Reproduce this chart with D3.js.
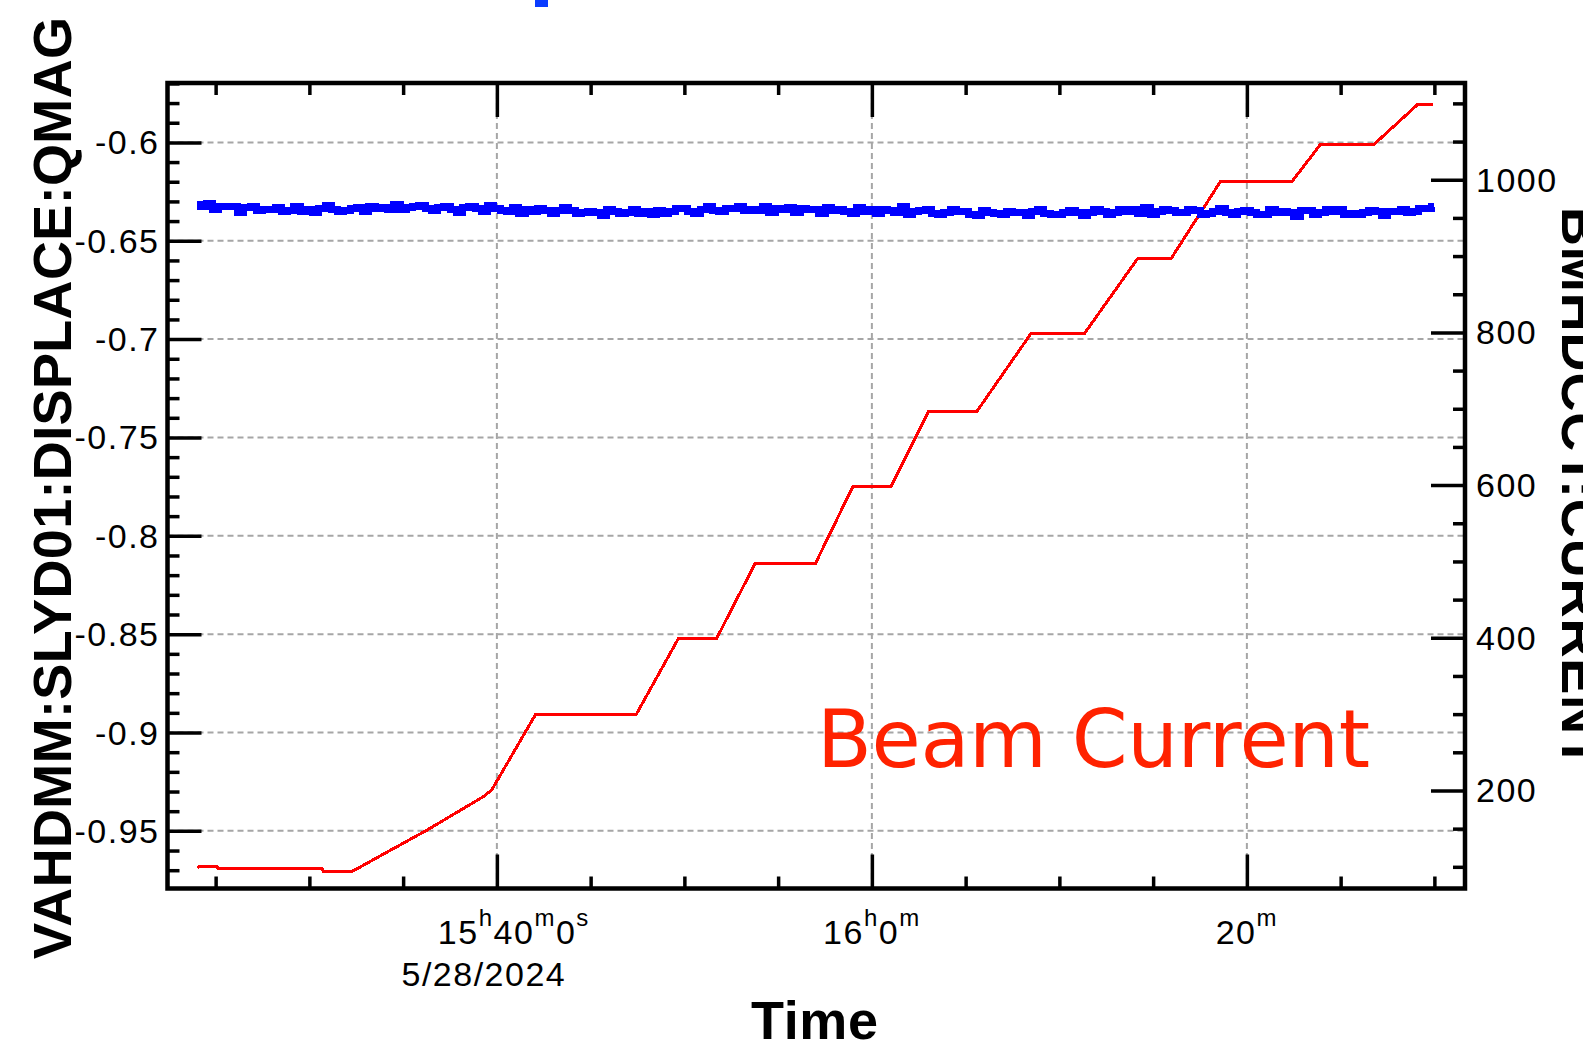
<!DOCTYPE html>
<html>
<head>
<meta charset="utf-8">
<script src="https://cdn.jsdelivr.net/npm/d3@7"></script>
<style>
  html, body { margin: 0; padding: 0; background: #fff; }
  svg { display: block; }
  .tick-label { font-family: "Liberation Sans", Arial, sans-serif; font-size: 34px; letter-spacing: 1.5px; fill: #000; }
  .axis-title { font-family: "Liberation Sans", Arial, Helvetica, sans-serif; font-weight: bold; font-size: 54px; fill: #000; }
</style>
</head>
<body>
<svg id="chart" width="1583" height="1046"></svg>
<script>
// ---- data -------------------------------------------------------------
const DAY = "2024-05-28";

// BMHDCCT:CURRENT (right axis), archived change points
const currentTimes = [
  "15:24:02", "15:24:08", "15:25:05", "15:25:08", "15:30:41", "15:30:45", "15:32:17",
  "15:34:50", "15:36:16", "15:39:17", "15:39:44", "15:42:03", "15:47:25", "15:49:41",
  "15:51:43", "15:53:46", "15:56:59", "15:58:59", "16:01:01", "16:03:01", "16:05:35",
  "16:08:30", "16:11:21", "16:14:11", "16:15:58", "16:18:36", "16:22:25", "16:23:55",
  "16:26:46", "16:29:05", "16:29:57"
];
const currentValues = [
  98, 100.5, 100.5, 97.5, 97.5, 94, 94,
  128.6, 148, 192, 201, 299, 299, 399,
  399, 497, 497, 598, 598, 696, 696,
  799, 799, 897, 897, 998, 998, 1046,
  1046, 1098, 1098
];

// VAHDMM:SLYD01:DISPLACE:QMAG (left axis), 20 s samples from 15:24:00
const displaceStart = "15:24:00";
const displaceStepSec = 20;
const displaceValues = [
  -0.6317, -0.6327, -0.6313, -0.6339, -0.6325, -0.6327, -0.6328, -0.6354, -0.6332,
  -0.6326, -0.6346, -0.6342, -0.6342, -0.6330, -0.6352, -0.6348, -0.6328, -0.6352,
  -0.6341, -0.6357, -0.6337, -0.6323, -0.6341, -0.6353, -0.6345, -0.6335, -0.6331,
  -0.6352, -0.6326, -0.6338, -0.6330, -0.6342, -0.6314, -0.6343, -0.6333, -0.6327,
  -0.6321, -0.6337, -0.6347, -0.6332, -0.6326, -0.6340, -0.6354, -0.6332, -0.6326,
  -0.6338, -0.6350, -0.6322, -0.6336, -0.6344, -0.6350, -0.6331, -0.6361, -0.6341,
  -0.6352, -0.6338, -0.6348, -0.6363, -0.6345, -0.6333, -0.6344, -0.6362, -0.6356,
  -0.6352, -0.6354, -0.6374, -0.6343, -0.6349, -0.6363, -0.6358, -0.6342, -0.6362,
  -0.6351, -0.6367, -0.6347, -0.6359, -0.6349, -0.6335, -0.6337, -0.6351, -0.6361,
  -0.6343, -0.6325, -0.6345, -0.6351, -0.6335, -0.6337, -0.6324, -0.6348, -0.6340,
  -0.6346, -0.6328, -0.6356, -0.6337, -0.6343, -0.6331, -0.6357, -0.6335, -0.6341,
  -0.6339, -0.6363, -0.6333, -0.6346, -0.6342, -0.6352, -0.6359, -0.6331, -0.6351,
  -0.6341, -0.6359, -0.6343, -0.6348, -0.6354, -0.6328, -0.6368, -0.6352, -0.6344,
  -0.6343, -0.6359, -0.6365, -0.6357, -0.6341, -0.6351, -0.6350, -0.6364, -0.6374,
  -0.6345, -0.6355, -0.6361, -0.6368, -0.6350, -0.6358, -0.6355, -0.6373, -0.6349,
  -0.6343, -0.6361, -0.6365, -0.6368, -0.6354, -0.6348, -0.6357, -0.6373, -0.6355,
  -0.6340, -0.6350, -0.6364, -0.6355, -0.6341, -0.6353, -0.6343, -0.6361, -0.6331,
  -0.6367, -0.6349, -0.6341, -0.6348, -0.6356, -0.6354, -0.6340, -0.6344, -0.6366,
  -0.6360, -0.6350, -0.6338, -0.6355, -0.6365, -0.6349, -0.6346, -0.6358, -0.6364,
  -0.6367, -0.6341, -0.6355, -0.6350, -0.6358, -0.6376, -0.6346, -0.6348, -0.6364,
  -0.6357, -0.6343, -0.6353, -0.6339, -0.6365, -0.6361, -0.6368, -0.6358, -0.6344,
  -0.6349, -0.6371, -0.6351, -0.6350, -0.6342, -0.6356, -0.6350, -0.6334, -0.6336,
  -0.6328
];

// axis ticks and labels
const leftTicks = [-0.6, -0.65, -0.7, -0.75, -0.8, -0.85, -0.9, -0.95];
const leftTickLabels = ["-0.6", "-0.65", "-0.7", "-0.75", "-0.8", "-0.85", "-0.9", "-0.95"];
const rightTicks = [200, 400, 600, 800, 1000];
const rightTickLabels = ["200", "400", "600", "800", "1000"];
const timeMajorTicks = ["15:40:00", "16:00:00", "16:20:00"];
const timeTickLabels = ["15^h40^m0^s", "16^h0^m", "20^m"];
const dateLabel = "5/28/2024";
const leftTitle = "VAHDMM:SLYD01:DISPLACE:QMAG";
const rightTitle = "BMHDCCT:CURRENT";
const timeTitle = "Time";
const annotation = "Beam Current";

// ---- scales -----------------------------------------------------------
const parse = d3.timeParse("%Y-%m-%d %H:%M:%S");
const at = s => parse(DAY + " " + s);

const frame = { left: 167.5, right: 1465, top: 83, bottom: 888.5 };

const x = d3.scaleTime()
  .domain([at("15:22:26"), at("16:31:38")])
  .range([frame.left, frame.right]);
const yL = d3.scaleLinear().domain([-0.9793, -0.5698]).range([frame.bottom, frame.top]);
const yR = d3.scaleLinear().domain([71.6, 1126.7]).range([frame.bottom, frame.top]);

const svg = d3.select("#chart");

// ---- grid -------------------------------------------------------------
const grid = svg.append("g")
  .attr("stroke", "#a6a6a6").attr("stroke-width", 2).attr("stroke-dasharray", "6,4");
grid.selectAll("line.h").data(leftTicks).join("line")
  .attr("x1", frame.left).attr("x2", frame.right)
  .attr("y1", d => yL(d)).attr("y2", d => yL(d));
grid.selectAll("line.v").data(timeMajorTicks.map(at)).join("line")
  .attr("x1", d => x(d)).attr("x2", d => x(d))
  .attr("y1", frame.top).attr("y2", frame.bottom);

// ---- series -----------------------------------------------------------
const current = currentTimes.map((s, i) => ({ t: at(s), v: currentValues[i] }));
const t0 = at(displaceStart);
const displace = displaceValues.map((v, i) => ({ t: new Date(+t0 + i * displaceStepSec * 1000), v }));

svg.append("path")
  .datum(current)
  .attr("fill", "none").attr("stroke", "#ff0000").attr("stroke-width", 3)
  .attr("shape-rendering", "crispEdges")
  .attr("d", d3.line().x(d => x(d.t)).y(d => yR(d.v)));

svg.append("path")
  .datum(displace)
  .attr("fill", "none").attr("stroke", "#0000ff").attr("stroke-width", 7)
  .attr("stroke-linejoin", "miter").attr("shape-rendering", "crispEdges")
  .attr("d", d3.line().curve(d3.curveStep).x(d => x(d.t)).y(d => yL(d.v)));

// ---- ticks (drawn inward on all four sides) --------------------------
const majorLen = 34, minorLen = 12;
const majorTimes = timeMajorTicks.map(at);
const minorTimes = x.ticks(d3.timeMinute.every(5)).filter(d => !majorTimes.some(m => +m === +d));
const leftMinor = yL.ticks(40).filter(v => !leftTicks.some(m => Math.abs(m - v) < 1e-9));
const rightMinor = yR.ticks(20).filter(v => !rightTicks.includes(v));

function styleAxis(g) {
  g.select(".domain").remove();
  g.selectAll(".tick line").attr("stroke", "#000").attr("stroke-width", 3.5);
  g.selectAll(".tick text").remove();
}
const addAxis = (axis, tx, ty) => svg.append("g").attr("transform", `translate(${tx},${ty})`).call(axis).call(styleAxis);

addAxis(d3.axisBottom(x).tickValues(minorTimes).tickSize(-minorLen), 0, frame.bottom);
addAxis(d3.axisBottom(x).tickValues(majorTimes).tickSize(-majorLen), 0, frame.bottom);
addAxis(d3.axisTop(x).tickValues(minorTimes).tickSize(-minorLen), 0, frame.top);
addAxis(d3.axisTop(x).tickValues(majorTimes).tickSize(-majorLen), 0, frame.top);
addAxis(d3.axisLeft(yL).tickValues(leftMinor).tickSize(-minorLen), frame.left, 0);
addAxis(d3.axisLeft(yL).tickValues(leftTicks).tickSize(-majorLen), frame.left, 0);
addAxis(d3.axisRight(yR).tickValues(rightMinor).tickSize(-minorLen), frame.right, 0);
addAxis(d3.axisRight(yR).tickValues(rightTicks).tickSize(-majorLen), frame.right, 0);

// frame
svg.append("rect")
  .attr("x", frame.left).attr("y", frame.top)
  .attr("width", frame.right - frame.left).attr("height", frame.bottom - frame.top)
  .attr("fill", "none").attr("stroke", "#000").attr("stroke-width", 4.5);

// ---- tick labels ------------------------------------------------------
svg.append("g").selectAll("text").data(leftTicks).join("text")
  .attr("class", "tick-label").attr("text-anchor", "end")
  .attr("x", frame.left - 8).attr("y", d => yL(d) + 12)
  .text((d, i) => leftTickLabels[i]);

svg.append("g").selectAll("text").data(rightTicks).join("text")
  .attr("class", "tick-label")
  .attr("x", frame.right + 11).attr("y", d => yR(d) + 12)
  .text((d, i) => rightTickLabels[i]);

// time labels with superscript unit letters (h, m, s)
const timeBase = frame.bottom + 55;
timeTickLabels.forEach((lab, i) => {
  const txt = svg.append("text").attr("class", "tick-label")
    .attr("text-anchor", "middle").attr("y", timeBase);
  const parts = lab.split(/(\^.)/).filter(p => p.length);
  let raised = false;
  const secSpans = [];
  parts.forEach((p, k) => {
    const sup = p[0] === "^";
    const sp = txt.append("tspan").text(sup ? p.slice(1) : p);
    if (sup) { sp.attr("font-size", 24).attr("dy", raised ? 0 : -18); raised = true; }
    else { sp.attr("dy", raised ? 18 : 0); raised = false; }
    // the seconds field: its value and its unit letter
    if (p === "^s" || parts[k + 1] === "^s") secSpans.push(sp);
  });
  // hours/minutes stay centred on the tick; trailing seconds hang to the right
  const secW = d3.sum(secSpans, s => s.node().getComputedTextLength());
  txt.attr("x", x(majorTimes[i]) + secW / 2);
});

svg.append("text").attr("class", "tick-label").attr("text-anchor", "middle")
  .attr("x", x(majorTimes[0]) - 13).attr("y", timeBase + 42)
  .text(dateLabel);

// ---- titles -----------------------------------------------------------
svg.append("text").attr("class", "axis-title").attr("text-anchor", "middle")
  .attr("transform", "translate(71,488) rotate(-90)")
  .attr("textLength", 942).text(leftTitle);

svg.append("text").attr("class", "axis-title").attr("text-anchor", "middle")
  .attr("transform", "translate(1562,487.5) rotate(90)")
  .attr("textLength", 561).text(rightTitle);

svg.append("text").attr("class", "axis-title").attr("text-anchor", "middle")
  .attr("x", 814.5).attr("y", 1039).attr("textLength", 127).text(timeTitle);

svg.append("text")
  .attr("x", 817).attr("y", 767)
  .attr("font-family", "DejaVu Sans, Verdana, sans-serif").attr("font-size", 80)
  .attr("fill", "#ff2200").attr("textLength", 553)
  .text(annotation);

// small blue legend swatch at the very top edge
svg.append("rect").attr("x", 535).attr("y", 0).attr("width", 13).attr("height", 7).attr("fill", "#0a3cff");
</script>
</body>
</html>
